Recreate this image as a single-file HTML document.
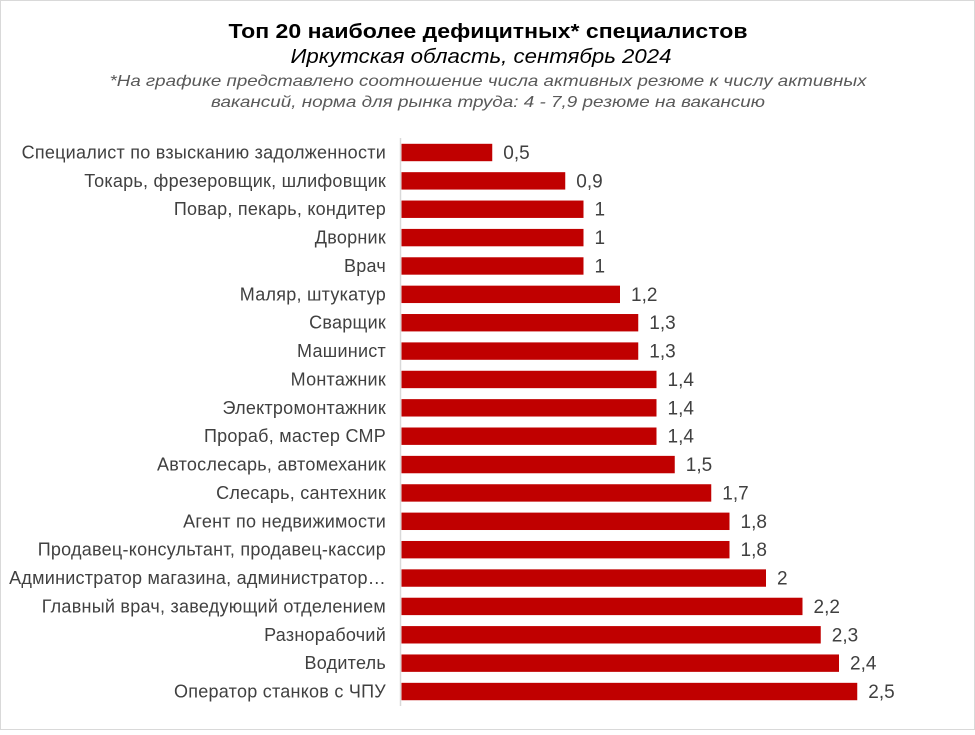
<!DOCTYPE html>
<html><head><meta charset="utf-8"><style>
body{margin:0;background:#fff;}
svg text{font-family:"Liberation Sans",sans-serif;}
</style></head><body>
<svg width="975" height="730" xmlns="http://www.w3.org/2000/svg">
<rect x="0.5" y="0.5" width="974" height="729" fill="#fff" stroke="#d9d9d9"/>
<text x="488" y="38" text-anchor="middle" font-size="20" font-weight="bold" fill="#000" textLength="519" lengthAdjust="spacingAndGlyphs">Топ 20 наиболее дефицитных* специалистов</text>
<text x="481" y="63" text-anchor="middle" font-size="20" font-style="italic" fill="#000" textLength="381" lengthAdjust="spacingAndGlyphs">Иркутская область, сентябрь 2024</text>
<text x="488" y="86" text-anchor="middle" font-size="16" font-style="italic" fill="#595959" textLength="757" lengthAdjust="spacingAndGlyphs">*На графике представлено соотношение числа активных резюме к числу активных</text>
<text x="488" y="107" text-anchor="middle" font-size="16" font-style="italic" fill="#595959" textLength="554" lengthAdjust="spacingAndGlyphs">вакансий, норма для рынка труда: 4 - 7,9 резюме на вакансию</text>
<line x1="400.5" y1="138" x2="400.5" y2="706" stroke="#d9d9d9" stroke-width="1.5"/>
<g id="bars" font-size="18" fill="#404040"></g>
</svg>
<script>
var d=[["Специалист по взысканию задолженности",0.5],["Токарь, фрезеровщик, шлифовщик",0.9],["Повар, пекарь, кондитер",1],["Дворник",1],["Врач",1],["Маляр, штукатур",1.2],["Сварщик",1.3],["Машинист",1.3],["Монтажник",1.4],["Электромонтажник",1.4],["Прораб, мастер СМР",1.4],["Автослесарь, автомеханик",1.5],["Слесарь, сантехник",1.7],["Агент по недвижимости",1.8],["Продавец-консультант, продавец-кассир",1.8],["Администратор магазина, администратор…",2],["Главный врач, заведующий отделением",2.2],["Разнорабочий",2.3],["Водитель",2.4],["Оператор станков с ЧПУ",2.5]];
var g=document.getElementById("bars"),h="";
d.forEach(function(r,i){var cy=152.5+i*28.37,w=r[1]*182.5-0.5;
h+='<rect x="401.5" y="'+(cy-8.7)+'" width="'+w+'" height="17.4" fill="#c00000"/>';
h+='<text x="386" y="'+(cy+6)+'" text-anchor="end" letter-spacing="0.25">'+r[0]+'</text>';
h+='<text x="'+(401.5+w+11)+'" y="'+(cy+6.5)+'" font-size="19">'+String(r[1]).replace(".",",")+'</text>';});
g.innerHTML=h;
</script>
</body></html>
